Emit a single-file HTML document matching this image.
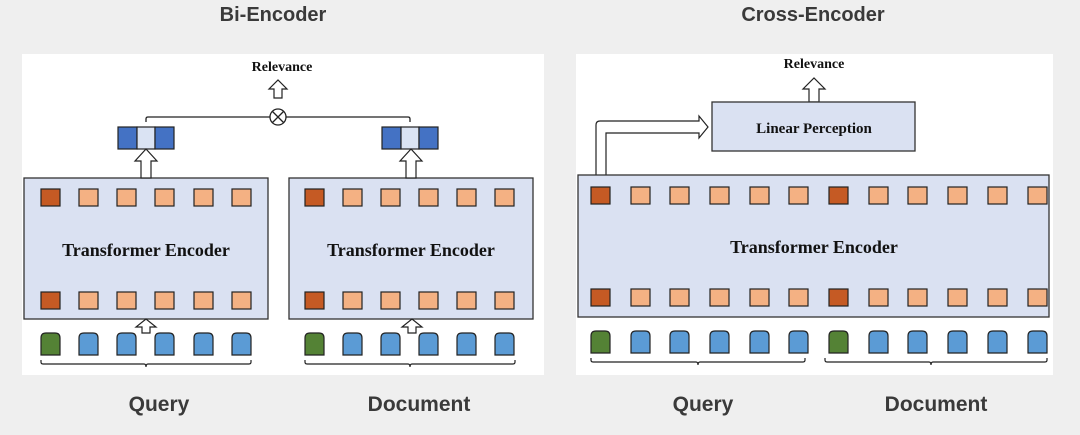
<!DOCTYPE html>
<html><head><meta charset="utf-8"><style>
html,body{margin:0;padding:0;background:#efefef;}
svg{display:block;}
.t{font-family:"Liberation Sans",Arial,sans-serif;font-weight:bold;fill:#3a3a3a;}
.s{font-family:"Liberation Serif","Times New Roman",serif;font-weight:bold;fill:#111;}
</style></head><body>
<svg width="1080" height="435" viewBox="0 0 1080 435" xmlns="http://www.w3.org/2000/svg">
<defs>
<g id="dk"><rect width="19" height="17" fill="#c55a24" stroke="#222" stroke-width="1.2"/></g>
<g id="lt"><rect width="19" height="17" fill="#f4b183" stroke="#222" stroke-width="1.2"/></g>
<g id="bl"><path d="M0,22 V5 Q0,0 5,0 H14 Q19,0 19,5 V22 Z" fill="#5b9bd5" stroke="#222" stroke-width="1.2"/></g>
<g id="gr"><path d="M0,22 V5 Q0,0 5,0 H14 Q19,0 19,5 V22 Z" fill="#548235" stroke="#222" stroke-width="1.2"/></g>
<g id="ua"><path d="M-4,14 V7 H-9 L0,-1 L9,7 H4 V14 Z" fill="#fff" stroke="#222" stroke-width="1.2"/></g>
<g id="ua2"><path d="M-5,29 V12 H-11 L0,0 L11,12 H5 V29 Z" fill="#fff" stroke="#222" stroke-width="1.2"/></g>
</defs>
<text class="t" x="273" y="21" font-size="20" text-anchor="middle">Bi-Encoder</text>
<text class="t" x="813" y="21" font-size="20" text-anchor="middle">Cross-Encoder</text>

<rect x="22" y="54" width="522" height="321" fill="#fff"/>
<rect x="576" y="54" width="477" height="321" fill="#fff"/>

<!-- Left bi-encoder -->
<text class="s" x="282" y="71" font-size="14" text-anchor="middle">Relevance</text>
<g transform="translate(278,80) scale(1)"><path d="M-4,18 V9 H-9 L0,0 L9,9 H4 V18 Z" fill="#fff" stroke="#222" stroke-width="1.2"/></g>
<path d="M146,122 V119 Q146,117 148,117 H408 Q410,117 410,119 V122" fill="none" stroke="#222" stroke-width="1.3"/>
<circle cx="278" cy="117" r="8" fill="#fff" stroke="#222" stroke-width="1.3"/>
<path d="M272.5,111.5 L283.5,122.5 M283.5,111.5 L272.5,122.5" stroke="#222" stroke-width="1.3"/>

<rect x="118" y="127" width="19" height="22" fill="#4472c4" stroke="#222" stroke-width="1.2"/>
<rect x="137" y="127" width="18" height="22" fill="#dae3f3" stroke="#222" stroke-width="1.2"/>
<rect x="155" y="127" width="19" height="22" fill="#4472c4" stroke="#222" stroke-width="1.2"/>
<rect x="382" y="127" width="19" height="22" fill="#4472c4" stroke="#222" stroke-width="1.2"/>
<rect x="401" y="127" width="18" height="22" fill="#dae3f3" stroke="#222" stroke-width="1.2"/>
<rect x="419" y="127" width="19" height="22" fill="#4472c4" stroke="#222" stroke-width="1.2"/>

<rect x="24" y="178" width="244" height="141" fill="#dae1f2" stroke="#333" stroke-width="1.3"/>
<rect x="289" y="178" width="244" height="141" fill="#dae1f2" stroke="#333" stroke-width="1.3"/>
<g transform="translate(146,149)"><path d="M-5,29 V12 H-11 L0,0 L11,12 H5 V29 Z" fill="#fff" stroke="#222" stroke-width="1.2"/></g>
<g transform="translate(411,149)"><path d="M-5,29 V12 H-11 L0,0 L11,12 H5 V29 Z" fill="#fff" stroke="#222" stroke-width="1.2"/></g>
<text class="s" x="146" y="256" font-size="18" text-anchor="middle">Transformer Encoder</text>
<text class="s" x="411" y="256" font-size="18" text-anchor="middle">Transformer Encoder</text>

<use href="#dk" x="41" y="189"/><use href="#lt" x="79" y="189"/><use href="#lt" x="117" y="189"/><use href="#lt" x="155" y="189"/><use href="#lt" x="194" y="189"/><use href="#lt" x="232" y="189"/>
<use href="#dk" x="41" y="292"/><use href="#lt" x="79" y="292"/><use href="#lt" x="117" y="292"/><use href="#lt" x="155" y="292"/><use href="#lt" x="194" y="292"/><use href="#lt" x="232" y="292"/>
<use href="#dk" x="305" y="189"/><use href="#lt" x="343" y="189"/><use href="#lt" x="381" y="189"/><use href="#lt" x="419" y="189"/><use href="#lt" x="457" y="189"/><use href="#lt" x="495" y="189"/>
<use href="#dk" x="305" y="292"/><use href="#lt" x="343" y="292"/><use href="#lt" x="381" y="292"/><use href="#lt" x="419" y="292"/><use href="#lt" x="457" y="292"/><use href="#lt" x="495" y="292"/>

<use href="#gr" x="41" y="333"/><use href="#bl" x="79" y="333"/><use href="#bl" x="117" y="333"/><use href="#bl" x="155" y="333"/><use href="#bl" x="194" y="333"/><use href="#bl" x="232" y="333"/>
<use href="#gr" x="305" y="333"/><use href="#bl" x="343" y="333"/><use href="#bl" x="381" y="333"/><use href="#bl" x="419" y="333"/><use href="#bl" x="457" y="333"/><use href="#bl" x="495" y="333"/>

<g transform="translate(146,319)"><path d="M-4,14 V8 H-10 L0,0 L10,8 H4 V14 Z" fill="#fff" stroke="#222" stroke-width="1.2"/></g>
<g transform="translate(412,319)"><path d="M-4,14 V8 H-10 L0,0 L10,8 H4 V14 Z" fill="#fff" stroke="#222" stroke-width="1.2"/></g>

<path d="M41,360 V362 Q41,364 43,364 H144 Q146,364 146,367 Q146,364 148,364 H249 Q251,364 251,362 V360" fill="none" stroke="#222" stroke-width="1.2"/>
<path d="M305,360 V362 Q305,364 307,364 H408 Q410,364 410,367 Q410,364 412,364 H513 Q515,364 515,362 V360" fill="none" stroke="#222" stroke-width="1.2"/>

<!-- Right cross-encoder -->
<text class="s" x="814" y="68" font-size="14" text-anchor="middle">Relevance</text>
<g transform="translate(814,78)"><path d="M-5,24 V11 H-11 L0,0 L11,11 H5 V24 Z" fill="#fff" stroke="#222" stroke-width="1.2"/></g>
<rect x="712" y="102" width="203" height="49" fill="#dae1f2" stroke="#333" stroke-width="1.3"/>
<text class="s" x="814" y="133" font-size="15" text-anchor="middle">Linear Perception</text>
<path d="M596,176 V125 Q596,121 600,121 H699 V116 L708,127 L699,138 V133 H606 V176 Z" fill="#fff" stroke="#222" stroke-width="1.2"/>

<rect x="578" y="175" width="471" height="142" fill="#dae1f2" stroke="#333" stroke-width="1.3"/>
<text class="s" x="814" y="253" font-size="18" text-anchor="middle">Transformer Encoder</text>

<use href="#dk" x="591" y="187"/><use href="#lt" x="631" y="187"/><use href="#lt" x="670" y="187"/><use href="#lt" x="710" y="187"/><use href="#lt" x="750" y="187"/><use href="#lt" x="789" y="187"/><use href="#dk" x="829" y="187"/><use href="#lt" x="869" y="187"/><use href="#lt" x="908" y="187"/><use href="#lt" x="948" y="187"/><use href="#lt" x="988" y="187"/><use href="#lt" x="1028" y="187"/>
<use href="#dk" x="591" y="289"/><use href="#lt" x="631" y="289"/><use href="#lt" x="670" y="289"/><use href="#lt" x="710" y="289"/><use href="#lt" x="750" y="289"/><use href="#lt" x="789" y="289"/><use href="#dk" x="829" y="289"/><use href="#lt" x="869" y="289"/><use href="#lt" x="908" y="289"/><use href="#lt" x="948" y="289"/><use href="#lt" x="988" y="289"/><use href="#lt" x="1028" y="289"/>
<use href="#gr" x="591" y="331"/><use href="#bl" x="631" y="331"/><use href="#bl" x="670" y="331"/><use href="#bl" x="710" y="331"/><use href="#bl" x="750" y="331"/><use href="#bl" x="789" y="331"/><use href="#gr" x="829" y="331"/><use href="#bl" x="869" y="331"/><use href="#bl" x="908" y="331"/><use href="#bl" x="948" y="331"/><use href="#bl" x="988" y="331"/><use href="#bl" x="1028" y="331"/>

<path d="M591,358 V360 Q591,362 593,362 H696 Q698,362 698,365 Q698,362 700,362 H803 Q805,362 805,360 V358" fill="none" stroke="#222" stroke-width="1.2"/>
<path d="M825,358 V360 Q825,362 827,362 H929 Q931,362 931,365 Q931,362 933,362 H1045 Q1047,362 1047,360 V358" fill="none" stroke="#222" stroke-width="1.2"/>

<text class="t" x="159" y="411" font-size="21" text-anchor="middle">Query</text>
<text class="t" x="419" y="411" font-size="21" text-anchor="middle">Document</text>
<text class="t" x="703" y="411" font-size="21" text-anchor="middle">Query</text>
<text class="t" x="936" y="411" font-size="21" text-anchor="middle">Document</text>
</svg>
</body></html>
